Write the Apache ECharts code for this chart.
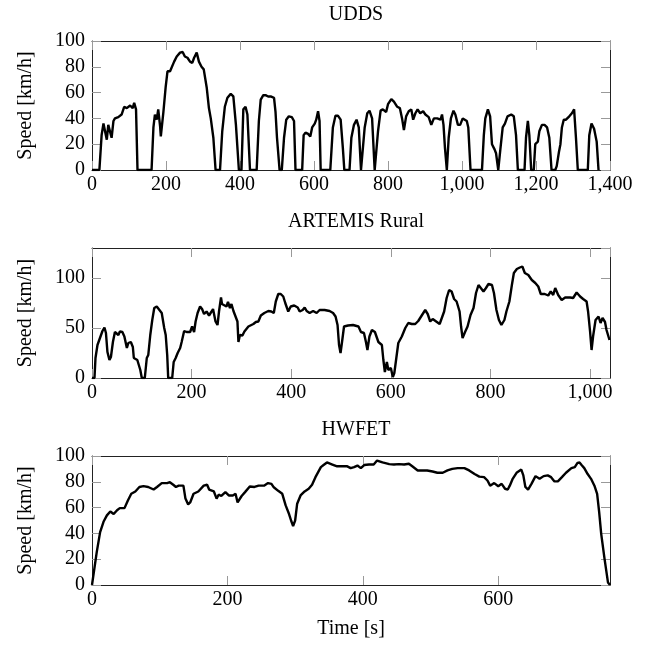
<!DOCTYPE html>
<html>
<head>
<meta charset="utf-8">
<script src="https://cdn.jsdelivr.net/npm/echarts@6/dist/echarts.min.js"></script>
<style>
html,body{margin:0;padding:0;background:#fff;}
#c{width:657px;height:645px;}
</style>
</head>
<body>
<div id="c"></div>
<script>
// ---------- data ----------
const titles = ['UDDS', 'ARTEMIS Rural', 'HWFET'];
const yName = 'Speed [km/h]';
const xName = 'Time [s]';

const uddsT = [0,20,26,31,35,40,44,49,53,58,62,71,80,87,94,103,110,114,119,123,161,166,170,175,179,184,186,193,199,204,211,215,222,229,238,245,251,258,265,271,276,283,289,296,302,310,316,321,328,334,346,352,359,366,375,382,389,397,404,409,415,420,427,445,451,456,463,469,476,483,492,496,500,507,513,519,525,532,540,546,550,568,572,577,584,590,595,602,606,611,615,618,644,651,658,665,672,678,682,696,701,708,715,721,727,732,737,744,750,757,764,768,773,780,786,795,800,809,816,825,832,838,843,849,856,863,868,874,880,887,895,901,910,917,924,933,942,946,950,954,959,964,970,977,982,989,995,1002,1006,1013,1017,1023,1054,1059,1063,1070,1076,1081,1088,1092,1098,1104,1110,1116,1123,1133,1140,1146,1151,1169,1173,1178,1182,1187,1194,1198,1205,1209,1216,1223,1230,1236,1242,1252,1256,1262,1266,1270,1275,1281,1290,1297,1303,1308,1313,1340,1344,1350,1357,1364,1369];
const uddsV = [0,0,27,36,35,23.5,35,36,25,38,40,41,43,49,48,50,48,52,47,0,0,33,43,39,47,34,26,45,64,76.5,76.5,78,84,88,91,91.5,88,87,84,83,87,91,84,80,78,64,48,40,25,0,0,30,49,56,59,57,35,0,0,47,49,43,0,0,38,54.5,58,58,57,57,56,45,25,0,0,25,39,41.6,41,38,0,0,27,29,28,26,33,36,39,45.5,38,0,0,33,42,42,39,17,0,0,25,35,39,33,0,0,33,44,46,40,0,0,30,46,47,45,51,55,53,49,48,40,31,41.6,45.5,47,39,44,47,44,45.5,43,41,35,40,40,39,43,35,17,0,25,40,46,43,35,35,40,41,38,33,0,0,27,40,47,41.6,20,16,13,0,17,33,36,41.6,43,41.6,27,0,0,25,38,27,0,0,20,22,30,35,35,33,25,0,0,3,14,20,33,39,39,41.6,44,47,25,0,0,27,36,32,22,0];

const artT = [0,5,7,11,16,21,25,28,31,35,38,42,46,49,53,56,61,65,70,73,78,82,84,88,91,94,97,100,106,110,113,117,121,125,130,134,140,145,148,151,153,161,164,168,172,177,180,185,190,193,197,201,205,208,212,217,221,225,230,235,240,243,248,252,255,259,261,265,270,273,277,280,284,288,292,294,297,302,306,310,314,318,324,329,334,339,346,354,360,365,369,374,379,384,388,394,399,406,413,417,423,427,431,437,444,451,457,467,477,484,489,493,496,499,502,506,514,524,528,535,540,546,550,553,557,562,568,575,582,585,588,592,595,600,604,607,611,615,622,629,635,642,649,655,662,669,674,679,684,691,698,702,707,712,717,722,727,732,738,741,744,749,754,760,766,771,776,780,786,791,796,803,807,812,817,822,828,832,838,843,847,853,859,864,869,876,883,890,896,901,909,916,921,926,930,936,943,950,960,966,973,980,986,993,996,1000,1003,1006,1011,1017,1021,1025,1030,1033,1039];
const artV = [0,0,20,33,40,47,50.5,45,26,18,21,36,46,47,43,46.5,46,41.5,30,35,36,31,20,21,18,13,8,0,0,20,23,43,58,70,71.5,70,65,50,43,23,0,0,16,20,25,30,36,47,46,48,46,51.5,46,56.5,65,71.5,69,64,66.5,62.5,66.5,69,56.5,53,66.5,80.5,74,73,71.5,76,70,74,67,68,56.5,36,43,42.5,46.5,46,51.5,50,54,56,56.5,62.5,65,67,66.5,65,76.5,84,84,81.5,75,66.5,71.5,72.5,70.5,66.5,68,70.5,67,65,67,65,68,68,67,65,61.5,53,33,25,36,51.5,52.5,53,53,51.5,46,45,36,28,41.5,48,46,36,33,18,6,16,8,10,1,5,20,35,41.5,50,55,54,54,57,62.5,68,64,56.5,59,56.5,54,53,66.5,80,88,86.5,79,76.5,66.5,51.5,40,46,51.5,63,70,85,93,94,86.5,90,94,93,85,68,58,53,58,66.5,76.5,93,105,109,110.5,111.5,105,103,98,95,91.5,84,84,82.5,86.5,83,90,83,78,80.5,80.5,80,85.5,81.5,79,76.5,66.5,46.5,28,41.5,58,61.5,55,60,56,48,38];

const hwT = [0,2,7,12,17,22,27,32,37,41,48,53,58,64,70,76,83,91,96,103,111,115,120,124,128,135,138,142,145,150,157,165,170,173,180,184,187,191,197,202,208,212,215,221,226,233,240,246,254,260,265,268,275,281,286,291,294,297,300,303,308,314,320,325,330,338,342,347,355,362,370,377,382,387,392,397,402,409,416,421,429,439,446,453,461,468,473,481,488,495,503,510,518,525,532,540,550,557,565,572,579,584,588,594,600,605,610,614,617,621,627,634,637,640,644,649,655,661,667,673,678,683,688,694,700,708,713,717,720,723,727,732,737,742,746,749,752,757,762,765];
const hwV = [0,0,25.5,41,49,54,57,55,58,59.6,59.6,65.5,70.7,72.5,76,76.6,76,74,76,79,79,79.7,77.7,76,77,77,67,62.5,64,70.7,72.5,77,77.7,74,72.5,67,70,69,72,69.4,69.4,70.7,64,69,72,76.4,76,77,77,79,78.4,76,73,70.7,61.7,55,50,45.7,50,63,69.4,72.5,74.6,77.7,83.6,91.4,93,95,93.4,92,92,92,90.6,91.4,92.6,90.6,93,93.4,93.4,96.5,95,93.7,93.4,93.7,93.4,94,92,88.8,88.8,88.8,88,87,87,88.8,90,90.6,90.6,88.8,86,84,83.6,81,77,79,76.6,78.4,74.6,74,77,82,87,89.5,85,76,74,78.4,84.4,82.3,84.4,85,83.6,80.3,80.3,83.6,87,90.6,91.4,94.7,95,93,90.6,86,82.3,77,70.7,56.5,39.7,20,2,0];

const xMax = [1400, 1040, 765];
const yMax = [100, 130, 100];
const yStep = [20, 50, 20];
const xStep = 200;

// ---------- chart ----------
const FONT = 'Liberation Serif';
const FS = 20;
const gridTops = [41, 248, 456];
const gridHeights = [129, 130, 129];

function zip(t, v) { return t.map((x, i) => [x, v[i]]); }
const seriesData = [zip(uddsT, uddsV), zip(artT, artV), zip(hwT, hwV)];

function fmt(v) { return v >= 1000 ? v.toLocaleString('en-US') : String(v); }

const grid = [], xAxis = [], yAxis = [], series = [], title = [];
for (let i = 0; i < 3; i++) {
  grid.push({ left: 92, width: 518, top: gridTops[i], height: gridHeights[i], containLabel: false });
  const tick = { show: true, inside: true, length: 9, lineStyle: { color: '#999', width: 1 } };
  const line = { show: true, onZero: false, lineStyle: { color: '#222', width: 1 } };
  const baseX = { gridIndex: i, type: 'value', min: 0, max: xMax[i], interval: xStep,
    splitLine: { show: false }, axisTick: tick, axisLine: line };
  xAxis.push(Object.assign({}, baseX, { position: 'bottom',
    axisLabel: { show: true, showMaxLabel: xMax[i] % xStep === 0, color: '#000', fontFamily: FONT, fontSize: FS, margin: 5, formatter: fmt },
    name: i === 2 ? xName : '', nameLocation: 'middle', nameGap: 34,
    nameTextStyle: { color: '#000', fontFamily: FONT, fontSize: FS } }));
  xAxis.push(Object.assign({}, baseX, { position: 'top', axisLabel: { show: false } }));
  const baseY = { gridIndex: i, type: 'value', min: 0, max: yMax[i], interval: yStep[i],
    splitLine: { show: false }, axisTick: tick, axisLine: line };
  yAxis.push(Object.assign({}, baseY, { position: 'left',
    axisLabel: { show: true, showMaxLabel: yMax[i] % yStep[i] === 0, color: '#000', fontFamily: FONT, fontSize: FS, margin: 7 },
    name: yName, nameLocation: 'middle', nameRotate: 90, nameGap: 56,
    nameTextStyle: { color: '#000', fontFamily: FONT, fontSize: FS } }));
  yAxis.push(Object.assign({}, baseY, { position: 'right', axisLabel: { show: false } }));
  series.push({ type: 'line', xAxisIndex: 2 * i, yAxisIndex: 2 * i, data: seriesData[i],
    showSymbol: false, symbol: 'none', smooth: false,
    lineStyle: { color: '#000', width: 2.4 }, clip: true });
  title.push({ text: titles[i], left: 351, top: gridTops[i] - 41, textAlign: 'center',
    textStyle: { color: '#000', fontFamily: FONT, fontSize: FS, fontWeight: 'normal' } });
}

const chart = echarts.init(document.getElementById('c'), null, { renderer: 'canvas' });
chart.setOption({ animation: false, backgroundColor: '#fff', title, grid, xAxis, yAxis, series });
</script>
</body>
</html>
